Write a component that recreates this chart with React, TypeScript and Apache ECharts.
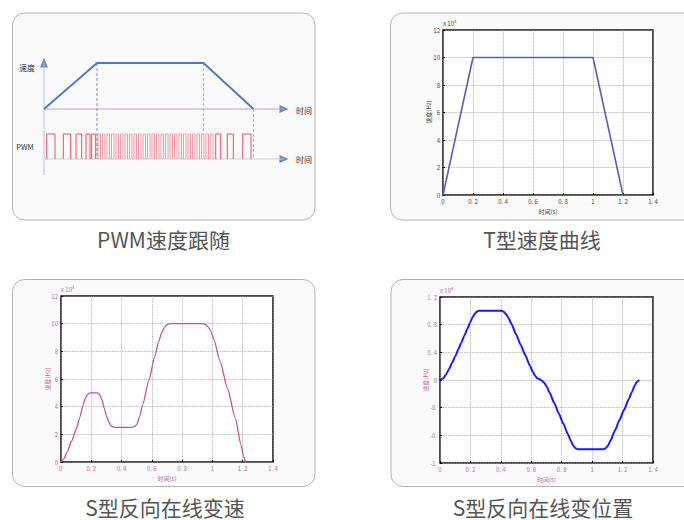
import React, { useEffect, useRef } from "react";
import * as echarts from "echarts";

// ---------- Panel 1 : PWM schematic (arbitrary schematic units) ----------
const speedProfileT = [0, 5.3, 15.95, 20.95];
const speedProfileV = [2, 3.84, 3.84, 2];
const pwmPulsesSparse: [number, number][] = [
  [0.27, 1.1], [1.93, 2.67], [3.2, 3.77], [4.2, 4.6], [4.77, 5.17],
  [17.17, 17.67], [18.33, 18.93], [19.87, 20.7],
];
const pwmPulsesDense: [number, number][] = [
  [5.4, 5.65], [5.85, 6.1], [6.3, 6.55], [6.75, 7.0], [7.2, 7.45],
  [7.65, 7.9], [8.1, 8.35], [8.55, 8.8], [9.0, 9.25], [9.45, 9.7],
  [9.9, 10.15], [10.35, 10.6], [10.8, 11.05], [11.25, 11.5], [11.7, 11.95],
  [12.15, 12.4], [12.6, 12.85], [13.05, 13.3], [13.5, 13.75], [13.95, 14.2],
  [14.4, 14.65], [14.85, 15.1], [15.3, 15.55], [15.75, 16.0], [16.2, 16.45],
  [16.62, 16.9],
];

// ---------- Panel 2 : T curve ----------
const tCurveT = [0, 0.2, 1.0, 1.2];
const tCurveV = [0, 10, 10, 0];

// ---------- Panel 3 : S curve speed ----------
const sSpeedT = [0, 0.02, 0.04, 0.07, 0.1, 0.125, 0.145, 0.16, 0.175, 0.19, 0.2, 0.24, 0.255, 0.27, 0.285, 0.3, 0.315, 0.33, 0.345, 0.36, 0.47, 0.485, 0.5, 0.52, 0.54, 0.58, 0.62, 0.645, 0.665, 0.685, 0.7, 0.72, 0.94, 0.955, 0.97, 0.99, 1.01, 1.05, 1.1, 1.15, 1.19, 1.205, 1.218];
const sSpeedV = [0, 0.25, 0.7, 1.5, 2.35, 3.25, 4.1, 4.6, 4.88, 4.98, 5.0, 5.0, 4.88, 4.5, 3.9, 3.35, 2.9, 2.62, 2.52, 2.5, 2.5, 2.56, 2.7, 3.3, 4.15, 5.9, 7.65, 8.7, 9.35, 9.75, 9.93, 10.0, 10.0, 9.93, 9.78, 9.45, 8.85, 7.3, 5.3, 3.2, 1.2, 0.45, 0];

// ---------- Panel 4 : S curve position ----------
const sPosT = [0, 0.02, 0.04, 0.06, 0.08, 0.1, 0.12, 0.14, 0.16, 0.18, 0.2, 0.215, 0.23, 0.24, 0.255, 0.405, 0.42, 0.435, 0.45, 0.47, 0.5, 0.53, 0.56, 0.59, 0.61, 0.625, 0.64, 0.655, 0.67, 0.685, 0.7, 0.72, 0.75, 0.78, 0.81, 0.84, 0.86, 0.875, 0.89, 0.905, 1.075, 1.09, 1.105, 1.12, 1.15, 1.18, 1.21, 1.24, 1.26, 1.28, 1.295, 1.31];
const sPosV = [0, 0.02, 0.08, 0.16, 0.25, 0.34, 0.44, 0.54, 0.64, 0.74, 0.84, 0.91, 0.96, 0.985, 1.0, 1.0, 0.985, 0.95, 0.9, 0.81, 0.66, 0.51, 0.36, 0.21, 0.12, 0.06, 0.025, 0.01, -0.01, -0.04, -0.09, -0.18, -0.33, -0.48, -0.63, -0.78, -0.88, -0.945, -0.985, -1.0, -1.0, -0.985, -0.945, -0.88, -0.73, -0.58, -0.43, -0.28, -0.18, -0.08, -0.025, 0];

// ---------- tick labels ----------
const timeTickLabels = ["0", "0. 2", "0. 4", "0. 6", "0. 8", "1", "1. 2", "1. 4"];
const speedTickLabels = ["0", "2", "4", "6", "8", "10", "12"];
const posTickLabels = ["-1.", "-0.", "-0.", "0", "0. 4", "0. 8", "1. 2"];

const titles = ["PWM速度跟随", "T型速度曲线", "S型反向在线变速", "S型反向在线变位置"];

const FONT = "'Noto Sans CJK SC', 'Noto Sans', sans-serif";

function zip(t: number[], v: number[]) {
  return t.map((x, i) => [x, v[i]]);
}

function pulseWave(p: [number, number][]) {
  const out: any[] = [];
  p.forEach(([r, f]) => {
    out.push([r, 0], [r, 1], [f, 1], [f, 0], [f, "-"]);
  });
  return out;
}

function timeAxis(gridIndex: number, color: string) {
  return {
    type: "value",
    gridIndex,
    min: 0,
    max: 1.4,
    interval: 0.2,
    name: "时间(s)",
    nameLocation: "middle",
    nameGap: 13,
    nameTextStyle: { fontSize: 6, color, fontFamily: FONT },
    axisLine: { show: false, onZero: false },
    axisTick: { inside: true, length: 2, lineStyle: { color: "#000" } },
    axisLabel: {
      fontSize: 6,
      color,
      margin: 3,
      fontFamily: FONT,
      formatter: (v: number) => timeTickLabels[Math.round(v / 0.2)] ?? "",
    },
    splitLine: { show: true, lineStyle: { type: "dotted", color: "#9a9a9a", width: 0.8 } },
  };
}

function valueAxis(gridIndex: number, color: string, min: number, max: number, interval: number, labels: string[]) {
  return {
    type: "value",
    gridIndex,
    min,
    max,
    interval,
    name: "x 10{s|4}",
    nameLocation: "end",
    nameGap: 3,
    nameTextStyle: {
      fontSize: 6,
      color,
      align: "left",
      fontFamily: FONT,
      rich: { s: { fontSize: 4, verticalAlign: "top", color, padding: [0, 0, 4, 0] } },
    },
    axisLine: { show: false, onZero: false },
    axisTick: { inside: true, length: 2, lineStyle: { color: "#000" } },
    axisLabel: {
      fontSize: 6,
      color,
      margin: 3,
      fontFamily: FONT,
      formatter: (v: number) => labels[Math.round((v - min) / interval)] ?? "",
    },
    splitLine: { show: true, lineStyle: { type: "dotted", color: "#9a9a9a", width: 0.8 } },
  };
}

export default function App() {
  const ref = useRef<HTMLDivElement>(null);
  useEffect(() => {
    if (!ref.current) return;
    const chart = echarts.init(ref.current, undefined, { renderer: "svg" });

    const plotGrid = {
      show: true,
      borderColor: "#111",
      borderWidth: 1.5,
      backgroundColor: "#ffffff",
      containLabel: false,
    };

    const card = (x: number, y: number, w: number, h: number) => ({
      type: "rect",
      z: -10,
      silent: true,
      shape: { x, y, width: w, height: h, r: 12 },
      style: { fill: "#fafafa", stroke: "#b4b4b4", lineWidth: 1 },
    });
    const txt = (x: number, y: number, text: string, size: number, fill: string, extra: any = {}) => ({
      type: "text",
      z: 50,
      silent: true,
      x,
      y,
      style: { text, fontSize: size, fill, fontFamily: FONT, align: "center", verticalAlign: "middle" },
      ...extra,
    });

    const p1 = { type: "line", xAxisIndex: 0, yAxisIndex: 0, showSymbol: false, silent: true };

    const option: any = {
      animation: false,
      backgroundColor: "#ffffff",
      graphic: {
        elements: [
          card(12.5, 13, 302.5, 207),
          card(390.5, 13, 320, 207),
          card(12.5, 279.5, 302.5, 207),
          card(391, 279.5, 320, 207),
          txt(163.5, 239, titles[0], 21, "#555"),
          txt(542, 239, titles[1], 21, "#555"),
          txt(165, 506.5, titles[2], 21, "#555"),
          txt(543, 506.5, titles[3], 21, "#555"),
          txt(27, 67, "速度", 8, "#333"),
          txt(25, 146, "PWM", 7.5, "#333"),
          txt(304, 110, "时间", 8, "#333"),
          txt(304, 159, "时间", 8, "#333"),
          txt(428, 112, "速度(Hz)", 6, "#444", { rotation: Math.PI / 2 }),
          txt(47, 379, "速度(Hz)", 6, "#c862a8", { rotation: Math.PI / 2 }),
          txt(425, 380, "速度(Hz)", 6, "#b86cb8", { rotation: Math.PI / 2 }),
        ],
      },
      grid: [
        { left: 44, top: 58, width: 244, height: 117, show: false },
        { ...plotGrid, left: 443, top: 30, width: 210, height: 165 },
        { ...plotGrid, left: 61, top: 296, width: 212, height: 166 },
        { ...plotGrid, left: 440, top: 297, width: 213, height: 166 },
      ],
      xAxis: [
        { type: "value", gridIndex: 0, min: 0, max: 24.4, show: false },
        timeAxis(1, "#444"),
        timeAxis(2, "#c862a8"),
        timeAxis(3, "#b86cb8"),
      ],
      yAxis: [
        { type: "value", gridIndex: 0, min: -0.64, max: 4.04, show: false },
        valueAxis(1, "#444", 0, 12, 2, speedTickLabels),
        valueAxis(2, "#c862a8", 0, 12, 2, speedTickLabels),
        valueAxis(3, "#b86cb8", -1.2, 1.2, 0.4, posTickLabels),
      ],
      series: [
        // Panel 1 axes
        { ...p1, data: [[0, -0.64], [0, 3.86]], lineStyle: { color: "#b8bde6", width: 1 } },
        { ...p1, data: [[0, 2], [24.0, 2]], lineStyle: { color: "#c79fc4", width: 1 } },
        { ...p1, data: [[0, 0], [24.0, 0]], lineStyle: { color: "#d9c6d6", width: 1 } },
        // PWM pulses
        { ...p1, connectNulls: false, data: pulseWave(pwmPulsesDense), lineStyle: { color: "#f39aa5", width: 1 } },
        { ...p1, connectNulls: false, data: pulseWave(pwmPulsesSparse), lineStyle: { color: "#e9505f", width: 1 } },
        // dashed guides
        { ...p1, data: [[5.3, 3.84], [5.3, 0]], lineStyle: { color: "#8a86c2", width: 1, type: [3, 2] } },
        { ...p1, data: [[15.95, 3.84], [15.95, 1]], lineStyle: { color: "#9fb4dd", width: 1, type: [3, 2] } },
        { ...p1, data: [[20.95, 2], [20.95, 0]], lineStyle: { color: "#9fb4dd", width: 1, type: [3, 2] } },
        // speed trapezoid
        { ...p1, data: zip(speedProfileT, speedProfileV), lineStyle: { color: "#4a78c8", width: 1.8 } },
        // arrows
        {
          type: "scatter", xAxisIndex: 0, yAxisIndex: 0, silent: true,
          symbol: "triangle", symbolSize: [8, 10], clip: false,
          itemStyle: { color: "#3b6fc2" },
          data: [[0, 3.86]],
        },
        {
          type: "scatter", xAxisIndex: 0, yAxisIndex: 0, silent: true,
          symbol: "triangle", symbolSize: [8, 9], symbolRotate: -90, clip: false,
          itemStyle: { color: "#3b6fc2" },
          data: [[24.0, 2], [24.0, 0]],
        },
        // Panel 2
        {
          type: "line", xAxisIndex: 1, yAxisIndex: 1, showSymbol: false, silent: true,
          data: zip(tCurveT, tCurveV), lineStyle: { color: "#5c5cba", width: 1.6 },
        },
        // Panel 3
        {
          type: "line", xAxisIndex: 2, yAxisIndex: 2, showSymbol: false, silent: true,
          smooth: 0.2, smoothMonotone: "x",
          data: zip(sSpeedT, sSpeedV), lineStyle: { color: "#c4509e", width: 1.3 },
        },
        // Panel 4
        {
          type: "line", xAxisIndex: 3, yAxisIndex: 3, showSymbol: false, silent: true,
          smooth: 0.2, smoothMonotone: "x",
          data: zip(sPosT, sPosV), lineStyle: { color: "#1a1aff", width: 2 },
        },
      ],
    };
    chart.setOption(option);
    return () => chart.dispose();
  }, []);
  return (
    <div
      ref={ref}
      style={{ position: "absolute", left: 0, top: 0, width: 684, height: 520 }}
    />
  );
}
